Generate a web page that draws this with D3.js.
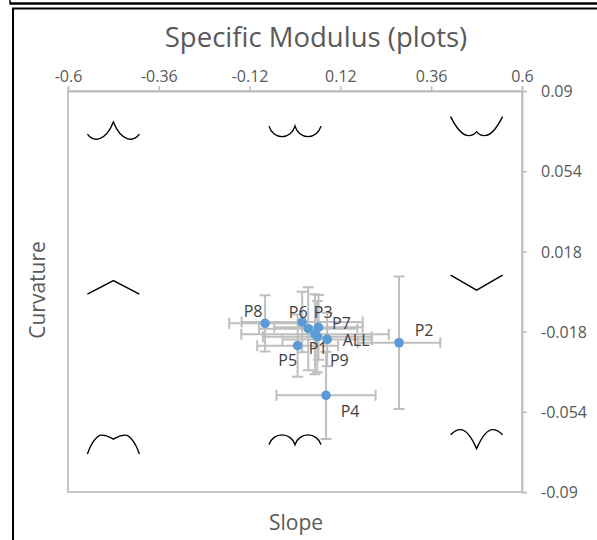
<!DOCTYPE html>
<html><head><meta charset="utf-8">
<script src="https://cdn.jsdelivr.net/npm/d3@7"></script>
<style>body{margin:0;background:#fff}svg{display:block}</style>
</head><body>
<svg id="c" width="597" height="540"></svg>
<script>
// ---- data ----
const labels = ["P8","P6","P3","P7","P1","P9","ALL","P5","P2","P4"];
const slope = [-0.079, 0.019, 0.035, 0.062, 0.053, 0.059, 0.085, 0.007, 0.275, 0.082];
const curvature = [-0.0143, -0.0137, -0.0167, -0.0161, -0.0192, -0.0203, -0.0215, -0.0243, -0.0230, -0.0466];
const slopeErr = [0.095, 0.16, 0.13, 0.117, 0.195, 0.144, 0.118, 0.107, 0.109, 0.131];
const curvErr = [0.0126, 0.0136, 0.0186, 0.0145, 0.018, 0.016, 0.012, 0.014, 0.0297, 0.0196];
const xTicks = [-0.6, -0.36, -0.12, 0.12, 0.36, 0.6];
const yTicks = [0.09, 0.054, 0.018, -0.018, -0.054, -0.09];
const iconNames = ["TL","TM","TR","ML","MR","BL","BM","BR"];
const iconX = [-0.48, 0, 0.48, -0.48, 0.48, -0.48, 0, 0.48];
const iconY = [0.072, 0.072, 0.074, 0.002, 0.004, -0.0685, -0.0665, -0.0665];

// ---- styles / layout ----
const font = "'Open Sans', sans-serif";
const labelOffsets = {P8:[-12,-12],P6:[-4,-10],P3:[15,-17],P7:[23,-4],P1:[3,14],P9:[22,23],ALL:[29,1],P5:[-10,14],P2:[25,-13],P4:[24,16]};
const iconPaths = {
  TL:"M-26,3 C-20,11 -8,11 0,-9 C8,11 20,11 26,3",
  TM:"M-26,-5 C-22,9 -4,9 0,-5 C4,9 22,9 26,-5",
  TR:"M-26,-10 C-18,6 -12,9 -8,9 Q-3,9 0,5 Q3,9 8,9 C12,9 18,6 26,-10",
  ML:"M-26,7 L0,-6.5 L26,7",
  MR:"M-26,-7.5 L0,7.5 L26,-7.5",
  BL:"M-26,10 C-22,-2 -16,-9 -12,-9 C-6,-9 -2,-6 0,-5 C2,-6 6,-9 12,-9 C16,-9 22,-2 26,10",
  BM:"M-26,5 C-22,-8 -4,-8 0,5 C4,-8 22,-8 26,5",
  BR:"M-26,-5 C-22,-9 -18,-10 -16,-10 C-10,-10 -4,0 0,9 C4,0 10,-10 16,-10 C18,-10 22,-9 26,-5"
};

const svg = d3.select("#c");
// frame lines
svg.append("line").attr("x1",10).attr("x2",597).attr("y1",3.5).attr("y2",3.5).attr("stroke","#000").attr("stroke-width",2.5);
svg.append("line").attr("x1",10).attr("x2",10).attr("y1",0).attr("y2",4.5).attr("stroke","#000").attr("stroke-width",1.5);
svg.append("rect").attr("x",13).attr("y",8.5).attr("width",700).attr("height",700).attr("fill","none").attr("stroke","#000").attr("stroke-width",2);

const L=68, R=522, T=91, B=492;
const x = d3.scaleLinear().domain([-0.6,0.6]).range([L,R]);
const y = d3.scaleLinear().domain([-0.09,0.09]).range([B,T]);
const grey = "#bfbfbf";

// plot box
svg.append("rect").attr("x",L).attr("y",T).attr("width",R-L).attr("height",B-T).attr("fill","none").attr("stroke",grey).attr("stroke-width",1.75);

// axes
const xa = svg.append("g").attr("transform",`translate(0,${T})`)
  .call(d3.axisTop(x).tickValues(xTicks).tickSize(5).tickFormat(d=>String(d)));
const ya = svg.append("g").attr("transform",`translate(${R},0)`)
  .call(d3.axisRight(y).tickValues(yTicks).tickSize(5).tickFormat(d=>String(d)));
[xa,ya].forEach(a=>{
  a.select(".domain").attr("stroke",grey).attr("stroke-width",1.75);
  a.selectAll(".tick line").attr("stroke",grey).attr("stroke-width",1.5);
  a.selectAll("text").attr("fill","#595959").style("font-family",font).style("font-size","16px");
});
xa.selectAll("text").attr("dy",0).attr("y",-9);
ya.selectAll("text").attr("x",19).attr("dy","0.35em");

// titles
svg.append("text").attr("x",316).attr("y",47).attr("text-anchor","middle").attr("fill","#595959")
  .style("font-family",font).style("font-size","27.5px").text("Specific Modulus (plots)");
svg.append("text").attr("x",296).attr("y",530).attr("text-anchor","middle").attr("fill","#595959")
  .style("font-family",font).style("font-size","21px").text("Slope");
svg.append("text").attr("transform","translate(45,290) rotate(-90)").attr("text-anchor","middle").attr("fill","#595959")
  .style("font-family",font).style("font-size","21px").text("Curvature");

// icons
svg.append("g").selectAll("path").data(iconNames).join("path")
  .attr("transform",(d,i)=>`translate(${x(iconX[i])},${y(iconY[i])})`)
  .attr("d",d=>iconPaths[d]).attr("fill","none").attr("stroke","#000").attr("stroke-width",1.4);

// error bars
const idx = d3.range(labels.length);
const cap = 5.5;
const eb = svg.append("g").attr("stroke",grey).attr("stroke-width",2).attr("fill","none");
idx.forEach(i=>{
  const cx=x(slope[i]), cy=y(curvature[i]);
  const x0=x(slope[i]-slopeErr[i]), x1=x(slope[i]+slopeErr[i]);
  const y0=y(curvature[i]+curvErr[i]), y1=y(curvature[i]-curvErr[i]);
  eb.append("path").attr("d",`M${x0},${cy}H${x1}M${x0},${cy-cap}V${cy+cap}M${x1},${cy-cap}V${cy+cap}`);
  eb.append("path").attr("d",`M${cx},${y0}V${y1}M${cx-cap},${y0}H${cx+cap}M${cx-cap},${y1}H${cx+cap}`);
});

// points
svg.append("g").selectAll("circle").data(idx).join("circle")
  .attr("cx",i=>x(slope[i])).attr("cy",i=>y(curvature[i])).attr("r",4.8).attr("fill","#5b9bd5");

// labels
svg.append("g").selectAll("text").data(idx).join("text")
  .attr("x",i=>x(slope[i])+labelOffsets[labels[i]][0])
  .attr("y",i=>y(curvature[i])+labelOffsets[labels[i]][1])
  .attr("text-anchor","middle").attr("dominant-baseline","central")
  .attr("fill","#404040").style("font-family",font).style("font-size","16px")
  .text(i=>labels[i]);
</script>
</body></html>
